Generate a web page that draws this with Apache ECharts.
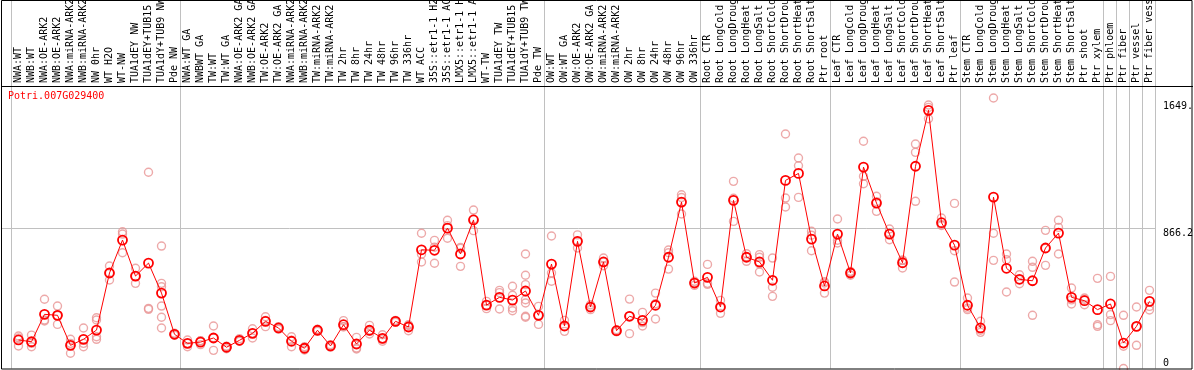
<!DOCTYPE html>
<html><head><meta charset="utf-8">
<script src="https://cdn.jsdelivr.net/npm/echarts@6/dist/echarts.min.js"></script>
<style>html,body{margin:0;padding:0;background:#fff}#c{width:1194px;height:370px}</style>
</head><body><div id="c"></div>
<script>
const chartTitle = "Potri.007G029400";

const categories = [
"NWA:WT","NWB:WT","NWA:OE-ARK2","NWB:OE-ARK2","NWA:miRNA-ARK2","NWB:miRNA-ARK2","NW 0hr","WT H2O","WT-NW","TUA1dEY NW","TUA1dEY+TUB15 NW","TUA1dY+TUB9 NW","Pde NW",
"NWA:WT GA","NWBWT GA","TW:WT","TW:WT GA","NWA:OE-ARK2 GA","NWB:OE-ARK2 GA","TW:OE-ARK2","TW:OE-ARK2 GA","NWA:miRNA-ARK2 GA","NWB:miRNA-ARK2 GA","TW:miRNA-ARK2","TW:miRNA-ARK2 GA","TW 2hr","TW 8hr","TW 24hr","TW 48hr","TW 96hr","TW 336hr","WT ACC","35S::etr1-1 H2O","35S::etr1-1 ACC","LMX5::etr1-1 H2O","LMX5::etr1-1 ACC","WT-TW","TUA1dEY TW","TUA1dEY+TUB15 TW","TUA1dY+TUB9 TW","Pde TW",
"OW:WT","OW:WT GA","OW:OE-ARK2","OW:OE-ARK2 GA","OW:miRNA-ARK2","OW:miRNA-ARK2 GA","OW 2hr","OW 8hr","OW 24hr","OW 48hr","OW 96hr","OW 336hr",
"Root CTR","Root LongCold","Root LongDrought","Root LongHeat","Root LongSalt","Root ShortCold","Root ShortDrought","Root ShortHeat","Root ShortSalt","Ptr root",
"Leaf CTR","Leaf LongCold","Leaf LongDrought","Leaf LongHeat","Leaf LongSalt","Leaf ShortCold","Leaf ShortDrought","Leaf ShortHeat","Leaf ShortSalt","Ptr leaf",
"Stem CTR","Stem LongCold","Stem LongDrought","Stem LongHeat","Stem LongSalt","Stem ShortCold","Stem ShortDrought","Stem ShortHeat","Stem ShortSalt","Ptr shoot","Ptr xylem",
"Ptr phloem","Ptr fiber","Ptr vessel","Ptr fiber vessel"
];

const means = [
176,165,334,328,143,180,237,589,792,570,650,465,211,
155,163,188,131,174,217,291,250,168,125,236,139,270,151,236,186,291,256,732,729,866,706,916,391,439,422,478,328,
644,262,784,379,657,233,322,297,390,686,1026,527,
562,379,1037,686,657,544,1160,1203,798,509,
829,589,1242,1020,829,652,1247,1592,899,761,
390,250,1057,618,550,541,743,835,439,418,363,
398,157,260,414
];

const replicates = [
[200,139,189],[206,134,155],[427,293,299],[385,272,327],[180,94,155],[250,134,155],[313,299,196,180],[632,546,589],[843,829,714],[618,525,567],[1210,371,365],[755,525,504,385,316,250],[205,211,217],
[176,134,155],[171,147,171],[262,112,190],[137,122,134],[184,168,170],[245,188,217],[319,258,296],[258,242,250],[196,134,174],[134,114,127],[242,229,237],[147,131,139],[295,258,257],[192,126,120],[266,213,229],[208,168,182],[297,285,291],[270,233,265],[834,657,705],[790,649,748],[914,803,881],[747,630,741],[977,850,921],[414,369,390],[482,367,468],[507,373,356,452],[706,575,517,424,404,322,316],[383,272,329],
[817,538,589],[297,229,260],[824,743,785],[393,363,381],[681,634,656],[239,227,233],[428,215,323],[346,262,283],[465,305,400],[731,613,714],[1071,953,1054],[538,513,530],
[642,519,525],[420,340,377],[1154,907,1050],[708,661,689],[702,595,686,645],[681,501,445],[1446,1051,996],[1298,1250,1055],[846,726,822],[527,465,535],
[922,774,791],[599,575,593],[1401,1185,1139],[1062,969,1029],[860,794,833],[667,620,669],[1384,1333,1031],[1625,1610,1540],[928,887,882],[1018,726,533],
[435,363,372],[291,223,236],[1668,834,667],[706,671,472],[578,523,549],[661,624,328],[852,636,741],[914,870,706],[496,398,423],[435,393,426],[556,270,260],
[568,332,295],[328,137,0],[379,143,258],[482,383,361]
];

const groupBoundaries = [0,13,41,53,63,73,84,85,86,87,88];
const yTickValues = [866.2, 1649.3];
const yZeroTick = [0];
const yMax = 1742;

const FONT = "'DejaVu Sans Mono', monospace";
const chart = echarts.init(document.getElementById('c'), null, {renderer: 'canvas'});

const repData = [];
replicates.forEach((arr, i) => arr.forEach(v => repData.push([i, v])));

const option = {
  animation: false,
  title: {text: chartTitle, left: 8, top: 91, padding: 0,
    textStyle: {fontFamily: FONT, fontSize: 10, fontWeight: 'normal', color: '#ff0000'}},
  grid: {left: 12, right: 38, top: 86, bottom: 1.5, containLabel: false, outerBoundsMode: 'none'},
  xAxis: [
    {type: 'category', data: categories, position: 'top', boundaryGap: true,
      axisLine: {show: false}, axisTick: {show: false}, splitLine: {show: false},
      axisLabel: {interval: 0, rotate: 90, margin: 3, fontFamily: FONT, fontSize: 10, color: '#000'}},
    {type: 'value', min: 0, max: categories.length, show: false}
  ],
  yAxis: [
    {type: 'value', min: 0, max: yMax, position: 'right',
      axisLine: {show: false}, axisTick: {show: false}, splitLine: {show: false},
      axisLabel: {customValues: yTickValues, formatter: v => String(v), margin: 7, align: 'left',
        verticalAlign: 'top', width: 34, overflow: 'truncate', ellipsis: '',
        fontFamily: FONT, fontSize: 10, color: '#000'}},
    {type: 'value', min: 0, max: yMax, position: 'right',
      axisLine: {show: false}, axisTick: {show: false}, splitLine: {show: false},
      axisLabel: {customValues: yZeroTick, formatter: v => String(v), margin: 7, align: 'left',
        verticalAlign: 'bottom', fontFamily: FONT, fontSize: 10, color: '#000'}}
  ],
  series: [
    {type: 'scatter', name: 'replicates', data: repData, xAxisIndex: 0, yAxisIndex: 0,
      symbol: 'circle', symbolSize: 8, silent: true, z: 2,
      itemStyle: {color: 'rgba(0,0,0,0)', borderColor: '#e99393', borderWidth: 1.4}},
    {type: 'line', name: 'mean', data: means, xAxisIndex: 0, yAxisIndex: 0,
      symbol: 'circle', symbolSize: 9, showAllSymbol: true, silent: true, z: 3,
      lineStyle: {color: '#ff0000', width: 1},
      itemStyle: {color: 'rgba(0,0,0,0)', borderColor: '#ff0000', borderWidth: 1.8}}
  ]
};
chart.setOption(option);

// decorations computed from the library's scales
const W = 1194;
const yBottom = chart.convertToPixel({yAxisIndex: 0}, 0);
const yRef = Math.round(chart.convertToPixel({yAxisIndex: 0}, 866.2)) + 0.5;
const xs = groupBoundaries.map(b => Math.round(chart.convertToPixel({xAxisIndex: 1}, b)) - 0.5);
const xEnd = xs[xs.length - 1];
const g = [];
xs.forEach(x => g.push({type: 'line', silent: true, z: 0,
  shape: {x1: x, y1: 0, x2: x, y2: yBottom}, style: {stroke: '#c0c0c0', lineWidth: 1}}));
g.push({type: 'line', silent: true, z: 0,
  shape: {x1: 1, y1: yRef, x2: xEnd, y2: yRef}, style: {stroke: '#c0c0c0', lineWidth: 1}});
g.push({type: 'line', silent: true, z: 10,
  shape: {x1: 1, y1: 86.5, x2: W - 1, y2: 86.5}, style: {stroke: '#000', lineWidth: 1}});
g.push({type: 'rect', silent: true, z: 10,
  shape: {x: 1.5, y: 0.5, width: W - 2.5 - 1, height: Math.round(yBottom) - 0.5},
  style: {fill: 'none', stroke: '#000', lineWidth: 1}});
chart.setOption({graphic: g});
</script>
</body></html>
